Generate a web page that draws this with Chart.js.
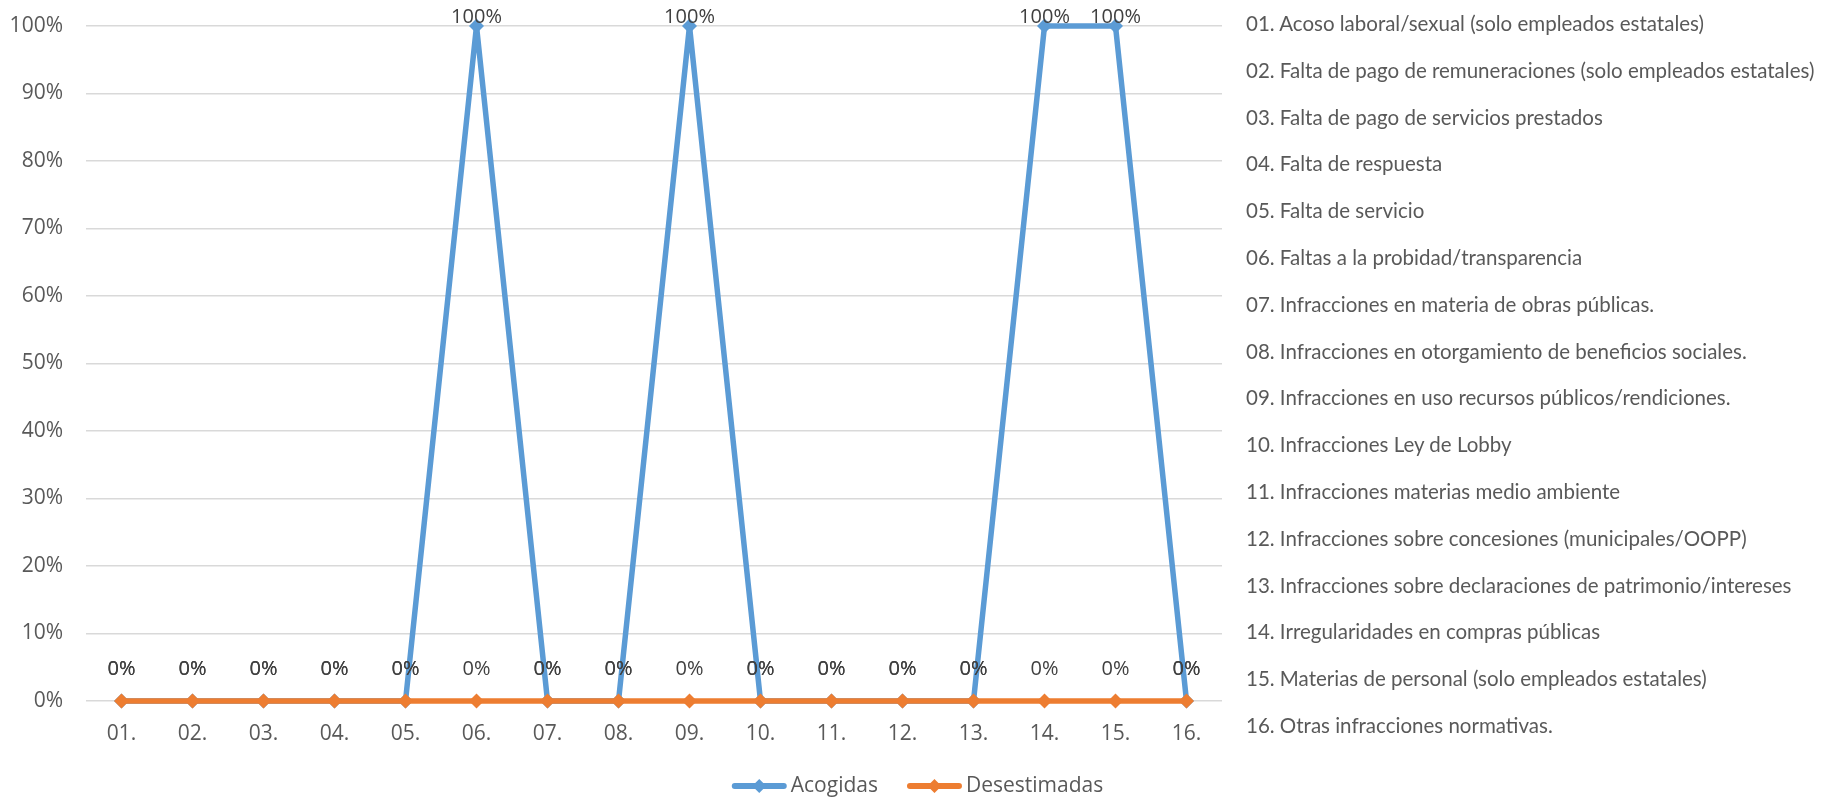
<!DOCTYPE html>
<html lang="es">
<head>
<meta charset="utf-8">
<title>Denuncias acogidas y desestimadas por materia</title>
<script src="https://cdn.jsdelivr.net/npm/chart.js@4.4.1/dist/chart.umd.min.js"></script>
<style>
  html, body { margin: 0; padding: 0; background: #ffffff; }
  #wrap { position: relative; width: 1835px; height: 799px; overflow: hidden; }
  #chart { position: absolute; left: 0; top: 0; }
  #materias {
    position: absolute; left: 1246px; top: 0; margin: 0; padding: 0; list-style: none;
    font-family: Lato, "Open Sans", sans-serif; font-size: 20.5px; color: #595959;
  }
  #materias li { white-space: nowrap; height: 46.8px; line-height: 46.8px; }
</style>
</head>
<body>
<div id="wrap">
  <canvas id="chart" width="1835" height="799"></canvas>
  <ul id="materias"></ul>
</div>
<script>
// Category codes shown on the x axis
const codes = ['01.', '02.', '03.', '04.', '05.', '06.', '07.', '08.',
               '09.', '10.', '11.', '12.', '13.', '14.', '15.', '16.'];

// Full name of each category, listed beside the chart
const materias = [
  'Acoso laboral/sexual (solo empleados estatales)',
  'Falta de pago de remuneraciones (solo empleados estatales)',
  'Falta de pago de servicios prestados',
  'Falta de respuesta',
  'Falta de servicio',
  'Faltas a la probidad/transparencia',
  'Infracciones en materia de obras públicas.',
  'Infracciones en otorgamiento de beneficios sociales.',
  'Infracciones en uso recursos públicos/rendiciones.',
  'Infracciones Ley de Lobby',
  'Infracciones materias medio ambiente',
  'Infracciones sobre concesiones (municipales/OOPP)',
  'Infracciones sobre declaraciones de patrimonio/intereses',
  'Irregularidades en compras públicas',
  'Materias de personal (solo empleados estatales)',
  'Otras infracciones normativas.'
];

// Series (percent)
const seriesNames = ['Acogidas', 'Desestimadas'];
const acogidas     = [0, 0, 0, 0, 0, 100, 0, 0, 100, 0, 0, 0, 0, 100, 100, 0];
const desestimadas = [0, 0, 0, 0, 0, 0, 0, 0, 0, 0, 0, 0, 0, 0, 0, 0];

const BLUE = '#5B9BD5';
const ORANGE = '#ED7D31';
const FONT = { family: '"Open Sans", sans-serif', size: 20 };
const TICK_FONT = { family: '"Open Sans", sans-serif', size: 21 };

// Side list of category names
const list = document.getElementById('materias');
codes.forEach((c, i) => {
  const li = document.createElement('li');
  li.textContent = c + ' ' + materias[i];
  list.appendChild(li);
});

// Percent labels above each point, kept inside the canvas at the top
const valueLabels = {
  id: 'valueLabels',
  afterDatasetsDraw(chart) {
    const ctx = chart.ctx;
    ctx.save();
    ctx.font = FONT.size + 'px ' + FONT.family;
    ctx.fillStyle = '#404040';
    ctx.textAlign = 'center';
    ctx.textBaseline = 'middle';
    chart.data.datasets.forEach((ds, i) => {
      const meta = chart.getDatasetMeta(i);
      meta.data.forEach((pt, j) => {
        const y = Math.max(pt.y - 32, 17);
        ctx.fillText(ds.data[j] + '%', pt.x, y);
      });
    });
    ctx.restore();
  }
};

// Bottom legend: line with a diamond, then the series name
const lineLegend = {
  id: 'lineLegend',
  afterDraw(chart) {
    const ctx = chart.ctx;
    const lineLen = 55, gap = 4, itemGap = 29, cy = 786, r = 7;
    ctx.save();
    ctx.font = '21px ' + FONT.family;
    const items = chart.data.datasets.map(ds => ({
      text: ds.label, color: ds.borderColor, w: ctx.measureText(ds.label).width
    }));
    const total = items.reduce((s, it) => s + lineLen + gap + it.w, 0) + itemGap * (items.length - 1);
    let x = chart.width / 2 - total / 2;
    items.forEach(it => {
      ctx.strokeStyle = it.color;
      ctx.lineWidth = 6;
      ctx.lineCap = 'round';
      ctx.beginPath();
      ctx.moveTo(x + 3, cy);
      ctx.lineTo(x + lineLen - 3, cy);
      ctx.stroke();
      const mx = x + lineLen / 2;
      ctx.fillStyle = it.color;
      ctx.beginPath();
      ctx.moveTo(mx - r, cy);
      ctx.lineTo(mx, cy - r);
      ctx.lineTo(mx + r, cy);
      ctx.lineTo(mx, cy + r);
      ctx.closePath();
      ctx.fill();
      ctx.fillStyle = '#595959';
      ctx.textAlign = 'left';
      ctx.textBaseline = 'middle';
      ctx.fillText(it.text, x + lineLen + gap, cy);
      x += lineLen + gap + it.w + itemGap;
    });
    ctx.restore();
  }
};

function lineDataset(label, data, color, order) {
  return {
    label, data, order,
    borderColor: color, backgroundColor: color,
    borderWidth: 5.5, borderJoinStyle: 'round', borderCapStyle: 'round',
    pointStyle: 'rectRot', pointRadius: 7.5, pointBorderWidth: 0,
    pointBackgroundColor: color, tension: 0, clip: false
  };
}

new Chart(document.getElementById('chart'), {
  type: 'line',
  data: {
    labels: codes,
    datasets: [
      lineDataset(seriesNames[0], acogidas, BLUE, 2),
      lineDataset(seriesNames[1], desestimadas, ORANGE, 1)
    ]
  },
  options: {
    responsive: false,
    animation: false,
    devicePixelRatio: 1,
    layout: { autoPadding: false, padding: { left: 0, right: 613, top: 26, bottom: 0 } },
    plugins: { legend: { display: false }, tooltip: { enabled: false } },
    scales: {
      x: {
        offset: true,
        grid: { display: false, drawTicks: false },
        border: { display: false },
        ticks: { font: TICK_FONT, color: '#595959', padding: 20, maxRotation: 0 },
        afterFit(s) { s.height = 98; }
      },
      y: {
        min: 0, max: 100,
        grid: { color: '#d9d9d9', lineWidth: 1.5, drawTicks: false },
        border: { display: false },
        ticks: { stepSize: 10, font: TICK_FONT, color: '#595959', padding: 23, callback: v => v + '%' },
        afterFit(s) { s.width = 86; s.paddingTop = 0; s.paddingBottom = 0; }
      }
    }
  },
  plugins: [valueLabels, lineLegend]
});
</script>
</body>
</html>
